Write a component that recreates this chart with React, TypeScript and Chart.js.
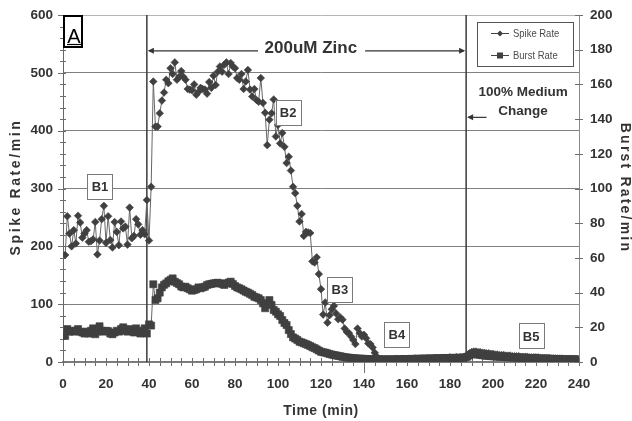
import { useEffect, useRef } from "react";
import { Chart, registerables } from "chart.js";

Chart.register(...registerables);

// One sample per minute; sample i was recorded at minute i + 1.
const spikeRate: number[] = [
  185, 252, 222, 200, 228, 205, 253, 241, 215, 222,
  228, 208, 209, 212, 242, 186, 210, 247, 270, 206,
  252, 211, 198, 242, 225, 202, 243, 231, 234, 203,
  267, 214, 218, 247, 238, 220, 228, 221, 280, 210,
  303, 485, 407, 407, 430, 452, 466, 488, 482, 508,
  498, 518, 488, 493, 503, 493, 488, 472, 471, 470,
  480, 462, 467, 474, 472, 471, 464, 484, 474, 495,
  479, 502, 511, 502, 514, 518, 498, 517, 511, 508,
  491, 488, 498, 472, 485, 505, 471, 459, 472, 453,
  450, 491, 448, 431, 375, 419, 430, 454, 390, 410,
  378, 396, 372, 344, 355, 331, 303, 292, 270, 243,
  256, 218, 225, 224, 223, 174, 172, 181, 152, 126,
  82, 103, 68, 81, 91, 97, 84, 74, 77, 73,
  58, 52, 50, 44, 38, 31, 58, 50, 44, 47,
  41, 32, 31, 25, 16, 9, 5, 4, 3, 4,
  5, 4, 3, 4, 5, 4, 4, 5, 4, 5,
  5, 4, 5, 6, 5, 5, 6, 5, 6, 6,
  5, 6, 7, 6, 6, 7, 6, 7, 7, 8,
  7, 7, 8, 7, 8, 8, 9, 11, 15, 17,
  18, 18, 17, 17, 16, 16, 15, 15, 14, 14,
  13, 13, 12, 12, 12, 11, 11, 11, 10, 10,
  10, 10, 9, 9, 9, 9, 8, 8, 8, 8,
  8, 7, 7, 7, 7, 7, 6, 6, 6, 6,
  6, 6, 5, 5, 5, 5, 5, 5, 5, 4,
];

const burstRate: number[] = [
  15, 19, 17.5, 18, 17.5, 18, 19, 17.5, 17, 16.4,
  17.5, 16.4, 18, 19.4, 16, 17.5, 20.6, 18, 17.5, 18,
  17.8, 16.4, 16, 17, 18, 17.5, 19, 20, 18, 17.5,
  19, 18, 17, 19.4, 17.5, 16.4, 18, 19.4, 16.4, 21.7,
  21, 44.8, 35.7, 36.7, 40, 43, 44.5, 45.3, 46.5, 47.3,
  48.2, 46.3, 45.5, 44.8, 43.5, 43, 43.4, 42.5, 41.9, 41.1,
  41.5, 41.9, 43, 42.5, 43, 43.4, 44.4, 44.8, 45, 45.3,
  45.5, 45.7, 45.3, 45, 44.4, 45.3, 45.8, 46.3, 45, 43.8,
  43, 42.5, 41.9, 41.2, 40.5, 40, 39.3, 38.6, 37.6, 37.2,
  36.7, 35.7, 33.8, 31, 33.8, 35.7, 32.9, 30, 29, 27.5,
  26.5, 24.2, 22.5, 21.3, 18.4, 16.1, 14.2, 13.5, 12.7, 11.7,
  11.3, 10.8, 10.3, 9.8, 9.2, 8.5, 8, 7.3, 6.6, 5.9,
  5.6, 5.4, 5, 4.6, 4.3, 4, 3.8, 3.5, 3.3, 3,
  2.8, 2.6, 2.5, 2.3, 2.2, 2.1, 2, 1.9, 1.9, 1.8,
  1.7, 1.7, 1.6, 1.6, 1.5, 1.5, 1.6, 1.5, 1.4, 1.5,
  1.5, 1.4, 1.5, 1.6, 1.5, 1.5, 1.6, 1.7, 1.6, 1.7,
  1.7, 1.8, 1.7, 1.8, 1.9, 1.8, 1.9, 2, 1.9, 2,
  2, 2.1, 2, 2.1, 2.2, 2.1, 2.2, 2.3, 2.2, 2.3,
  2.4, 2.3, 2.4, 2.5, 2.4, 2.5, 2.6, 3, 3.8, 4.4,
  4.6, 4.5, 4.3, 4.1, 3.9, 3.8, 3.6, 3.5, 3.4, 3.3,
  3.2, 3.1, 3, 3, 2.9, 2.8, 2.8, 2.7, 2.6, 2.6,
  2.5, 2.5, 2.4, 2.4, 2.3, 2.3, 2.2, 2.2, 2.1, 2.1,
  2, 2, 2, 1.9, 1.9, 1.8, 1.8, 1.8, 1.7, 1.7,
  1.7, 1.6, 1.6, 1.6, 1.5, 1.5, 1.5, 1.5, 1.4, 1.4,
];

const minutes = spikeRate.map((_, i) => i + 1);

// Treatment events (minutes)
const zincStart = 39;
const mediumChange = 187.5;
const zincLabel = "200uM Zinc";
const changeLabel = ["100% Medium", "Change"];

// Phase markers B1..B5: minute and spike-rate position of each label
const phaseNames = ["B1", "B2", "B3", "B4", "B5"];
const phaseMinutes = [17.2, 104.7, 128.8, 155.3, 217.7];
const phaseSpike = [303, 431, 125, 47, 45];

const FONT = '"Liberation Sans", Arial, Helvetica, sans-serif';
const INK = "#333333";
const MARK = "#404040";

function arrowHead(ctx: CanvasRenderingContext2D, x: number, y: number, dir: number) {
  ctx.beginPath();
  ctx.moveTo(x, y);
  ctx.lineTo(x - dir * 6, y - 3);
  ctx.lineTo(x - dir * 6, y + 3);
  ctx.closePath();
  ctx.fill();
}

const decorations = {
  id: "decorations",
  beforeDatasetsDraw(chart: any) {
    const { ctx, chartArea: a, scales } = chart;
    const sx = scales.x;
    const sy = scales.y;
    const sy1 = scales.y1;
    ctx.save();
    ctx.strokeStyle = "#6e6e6e";
    ctx.lineWidth = 1;
    for (let t = 0; t <= 240; t += 5) {
      const px = Math.round(sx.getPixelForValue(t)) + 0.5;
      ctx.beginPath();
      ctx.moveTo(px, a.bottom - 4);
      ctx.lineTo(px, a.bottom + 4);
      ctx.stroke();
    }
    for (let v = 0; v <= 600; v += 20) {
      const py = Math.round(sy.getPixelForValue(v)) + 0.5;
      const major = v % 100 === 0;
      ctx.beginPath();
      ctx.moveTo(a.left - (major ? 5 : 3), py);
      ctx.lineTo(a.left + 3, py);
      ctx.stroke();
    }
    for (let v = 0; v <= 200; v += 20) {
      const py = Math.round(sy1.getPixelForValue(v)) + 0.5;
      ctx.beginPath();
      ctx.moveTo(a.right - 4, py);
      ctx.lineTo(a.right + 4, py);
      ctx.stroke();
    }
    // short drop line below the axis at 140 min
    const p140 = Math.round(sx.getPixelForValue(140)) + 0.5;
    ctx.beginPath();
    ctx.moveTo(p140, a.bottom);
    ctx.lineTo(p140, a.bottom + 11);
    ctx.stroke();

    // treatment event lines
    ctx.strokeStyle = "#3a3a3a";
    ctx.lineWidth = 1.5;
    for (const t of [zincStart, mediumChange]) {
      const px = sx.getPixelForValue(t);
      ctx.beginPath();
      ctx.moveTo(px, a.top);
      ctx.lineTo(px, a.bottom);
      ctx.stroke();
    }
    ctx.restore();
  },
  afterDatasetsDraw(chart: any) {
    const { ctx, chartArea: a, scales, data } = chart;
    const sx = scales.x;
    const sy = scales.y;
    ctx.save();

    // "A" panel tag
    ctx.strokeStyle = "#000";
    ctx.lineWidth = 2;
    ctx.fillStyle = "#fff";
    ctx.fillRect(a.left + 1, a.top + 1, 18, 31);
    ctx.strokeRect(a.left + 1, a.top + 1, 18, 31);
    ctx.fillStyle = "#000";
    ctx.font = `20px ${FONT}`;
    ctx.textAlign = "center";
    ctx.textBaseline = "alphabetic";
    ctx.fillText("A", a.left + 11, a.top + 28);
    ctx.lineWidth = 1.2;
    ctx.beginPath();
    ctx.moveTo(a.left + 4, a.top + 29.5);
    ctx.lineTo(a.left + 18, a.top + 29.5);
    ctx.stroke();

    // zinc application span
    const zx0 = sx.getPixelForValue(zincStart);
    const zx1 = sx.getPixelForValue(mediumChange);
    const zy = sy.getPixelForValue(538);
    const zc = sx.getPixelForValue(115.3);
    ctx.strokeStyle = "#333";
    ctx.fillStyle = "#333";
    ctx.lineWidth = 1.2;
    ctx.beginPath();
    ctx.moveTo(zx0 + 2, zy);
    ctx.lineTo(sx.getPixelForValue(90.7), zy);
    ctx.moveTo(sx.getPixelForValue(140.5), zy);
    ctx.lineTo(zx1 - 2, zy);
    ctx.stroke();
    arrowHead(ctx, zx0 + 1, zy, -1);
    arrowHead(ctx, zx1 - 1, zy, 1);
    ctx.fillStyle = INK;
    ctx.font = `bold 17px ${FONT}`;
    ctx.textBaseline = "middle";
    ctx.fillText(zincLabel, zc, sy.getPixelForValue(543));

    // medium change note
    ctx.font = `bold 13.5px ${FONT}`;
    const mc = sx.getPixelForValue(214);
    ctx.fillText(changeLabel[0], mc, sy.getPixelForValue(466));
    ctx.fillText(changeLabel[1], mc, sy.getPixelForValue(433));
    const my = sy.getPixelForValue(423);
    ctx.strokeStyle = "#333";
    ctx.fillStyle = "#333";
    ctx.beginPath();
    ctx.moveTo(sx.getPixelForValue(197), my);
    ctx.lineTo(zx1 + 2, my);
    ctx.stroke();
    arrowHead(ctx, zx1 + 1, my, -1);

    // phase labels
    ctx.font = `bold 13px ${FONT}`;
    ctx.lineWidth = 1;
    phaseNames.forEach((name, i) => {
      const cx = sx.getPixelForValue(phaseMinutes[i]);
      const cy = sy.getPixelForValue(phaseSpike[i]);
      ctx.fillStyle = "#fff";
      ctx.fillRect(cx - 12.5, cy - 12.5, 25, 25);
      ctx.strokeStyle = "#7a7a7a";
      ctx.strokeRect(Math.round(cx - 12.5) + 0.5, Math.round(cy - 12.5) + 0.5, 25, 25);
      ctx.fillStyle = INK;
      ctx.fillText(name, cx, cy + 1);
    });

    // legend
    const lx = a.right - 102;
    const ly = a.top + 7;
    ctx.fillStyle = "#fff";
    ctx.fillRect(lx, ly, 96, 44);
    ctx.strokeStyle = "#555";
    ctx.strokeRect(Math.round(lx) + 0.5, Math.round(ly) + 0.5, 96, 44);
    ctx.font = `11px ${FONT}`;
    ctx.textAlign = "left";
    data.datasets.forEach((ds: any, i: number) => {
      const ey = ly + 11.5 + i * 22;
      ctx.strokeStyle = "#444";
      ctx.lineWidth = 1;
      ctx.beginPath();
      ctx.moveTo(lx + 14, ey);
      ctx.lineTo(lx + 32, ey);
      ctx.stroke();
      ctx.fillStyle = MARK;
      ctx.beginPath();
      if (ds.pointStyle === "rectRot") {
        ctx.moveTo(lx + 23, ey - 3);
        ctx.lineTo(lx + 26, ey);
        ctx.lineTo(lx + 23, ey + 3);
        ctx.lineTo(lx + 20, ey);
        ctx.closePath();
      } else {
        ctx.rect(lx + 20, ey - 3, 6, 6);
      }
      ctx.fill();
      // narrow legend lettering
      ctx.save();
      ctx.translate(lx + 36, ey + 0.5);
      ctx.scale(0.86, 1);
      ctx.fillStyle = "#4a4a4a";
      ctx.fillText(ds.label, 0, 0);
      ctx.restore();
    });

    // axis titles
    ctx.fillStyle = INK;
    ctx.textAlign = "center";
    ctx.font = `bold 14px ${FONT}`;
    (ctx as any).letterSpacing = "2.6px";
    ctx.save();
    ctx.translate(16, 187);
    ctx.rotate(-Math.PI / 2);
    ctx.fillText("Spike Rate/min", 0, 0);
    ctx.restore();
    (ctx as any).letterSpacing = "2.2px";
    ctx.save();
    ctx.translate(625, 188);
    ctx.rotate(Math.PI / 2);
    ctx.fillText("Burst Rate/min", 0, 0);
    ctx.restore();
    (ctx as any).letterSpacing = "0.5px";
    ctx.font = `bold 14px ${FONT}`;
    ctx.fillText("Time (min)", 321, 411);
    ctx.restore();
  },
};

const noScalePadding = (s: any) => {
  s.paddingTop = 0;
  s.paddingBottom = 0;
  s.paddingLeft = 0;
  s.paddingRight = 0;
};

export default function App() {
  const canvasRef = useRef<HTMLCanvasElement | null>(null);

  useEffect(() => {
    const canvas = canvasRef.current;
    if (!canvas) return;
    const tickFont = { family: FONT, size: 13.5, weight: "bold" as const };
    const chart = new Chart(canvas, {
      type: "line",
      data: {
        datasets: [
          {
            label: "Spike Rate",
            data: minutes.map((m, i) => ({ x: m, y: spikeRate[i] })),
            yAxisID: "y",
            borderColor: "#666",
            borderWidth: 1,
            pointStyle: "rectRot",
            pointRadius: 3.8,
            pointBackgroundColor: MARK,
            pointBorderColor: MARK,
            pointBorderWidth: 0.6,
            fill: false,
            tension: 0,
          },
          {
            label: "Burst Rate",
            data: minutes.map((m, i) => ({ x: m, y: burstRate[i] })),
            yAxisID: "y1",
            borderColor: "#666",
            borderWidth: 1,
            pointStyle: "rect",
            pointRadius: 5,
            pointBackgroundColor: MARK,
            pointBorderColor: MARK,
            pointBorderWidth: 0.6,
            fill: false,
            tension: 0,
          },
        ],
      },
      options: {
        responsive: false,
        devicePixelRatio: 1,
        animation: false,
        events: [],
        layout: { padding: { top: 15, left: 0, right: 0, bottom: 0 } },
        plugins: {
          legend: { display: false },
          tooltip: { enabled: false },
          title: { display: false },
        },
        scales: {
          x: {
            type: "linear",
            min: 0,
            max: 240,
            ticks: { stepSize: 20, color: INK, font: tickFont, padding: 14, maxRotation: 0 },
            grid: { display: false, drawTicks: false },
            border: { display: true, color: "#7a7a7a", width: 1.5 },
            afterFit: (s: any) => {
              s.height = 59;
              noScalePadding(s);
            },
          },
          y: {
            position: "left",
            min: 0,
            max: 600,
            ticks: { stepSize: 100, color: INK, font: tickFont, padding: 10 },
            grid: {
              drawTicks: false,
              color: (c: any) => (c.tick && c.tick.value === 600 ? "#b4b4b4" : "#808080"),
              lineWidth: 1,
            },
            border: { display: true, color: "#666", width: 1 },
            afterFit: (s: any) => {
              s.width = 63;
              noScalePadding(s);
            },
          },
          y1: {
            position: "right",
            min: 0,
            max: 200,
            ticks: { stepSize: 20, color: INK, font: tickFont, padding: 11 },
            grid: { display: false, drawTicks: false },
            border: { display: true, color: "#8a8a8a", width: 1 },
            afterFit: (s: any) => {
              s.width = 53;
              noScalePadding(s);
            },
          },
        },
      },
      plugins: [decorations],
    });
    return () => chart.destroy();
  }, []);

  return (
    <div style={{ position: "fixed", left: 0, top: 0, width: 632, height: 421, background: "#fff" }}>
      <canvas ref={canvasRef} width={632} height={421} style={{ display: "block" }} />
    </div>
  );
}
